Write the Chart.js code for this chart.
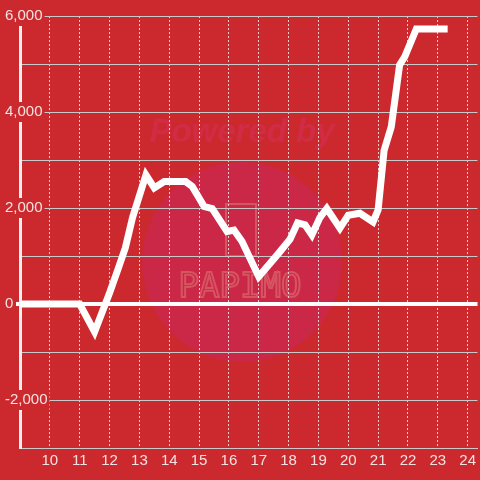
<!DOCTYPE html>
<html>
<head>
    <title>Balance by hour</title>
    <script src="https://cdn.jsdelivr.net/npm/chart.js"></script>
    <style>
        * { margin: 0; padding: 0; }
        body { background: #cc292e; }
        #wrap { width: 480px; height: 480px; position: relative; }
    </style>
</head>
<body>
    <div id="wrap"><canvas id="chart"></canvas></div>
    <script>
        // values
        const hours = [9, 11, 11.5, 12.0, 12.27, 12.53, 12.77, 13.22, 13.5, 13.83, 14.55, 14.77, 15.17, 15.44,
            15.94, 16.17, 16.44, 17.0, 17.67, 18.05, 18.3, 18.55, 18.78, 19.05, 19.28, 19.72, 20.0, 20.39,
            20.83, 21.0, 21.2, 21.44, 21.72, 21.89, 22.28, 23.33];
        const balance = [0, 0, -580, 230, 700, 1170, 1800, 2690, 2420, 2550, 2550, 2450, 2030, 1990,
            1510, 1540, 1300, 570, 1060, 1350, 1690, 1650, 1440, 1800, 1990, 1580, 1850, 1890,
            1710, 1960, 3200, 3690, 4980, 5150, 5730, 5730];
        const xTicks = [10, 11, 12, 13, 14, 15, 16, 17, 18, 19, 20, 21, 22, 23, 24];
        const yTicks = [-3000, -2000, -1000, 0, 1000, 2000, 3000, 4000, 5000, 6000];

        const bg = '#cc292e';
        const labelColor = '#f4e2e2';

        // background + faint watermark
        const watermark = {
            id: 'watermark',
            beforeDraw(chart) {
                const ctx = chart.ctx;
                ctx.save();
                ctx.fillStyle = bg;
                ctx.fillRect(0, 0, chart.width, chart.height);
                ctx.fillStyle = '#cb2747';
                ctx.beginPath();
                ctx.arc(242, 262, 100, 0, Math.PI * 2);
                ctx.fill();
                ctx.fillStyle = '#d02c45';
                ctx.font = 'italic bold 33px "Liberation Sans", Arial, sans-serif';
                ctx.textAlign = 'center';
                ctx.textBaseline = 'middle';
                ctx.fillText('Powered by', 242, 133);
                ctx.strokeStyle = '#d65562';
                ctx.lineWidth = 2;
                ctx.strokeRect(226, 204, 30, 52);
                ctx.font = '34px "DejaVu Sans Mono", monospace';
                ctx.strokeText('PAPIMO', 240, 288);
                ctx.restore();
            }
        };

        new Chart(document.getElementById('chart'), {
            type: 'line',
            data: {
                datasets: [{
                    data: hours.map((h, i) => ({ x: h, y: balance[i] })),
                    borderColor: '#ffffff',
                    borderWidth: 7,
                    pointRadius: 0,
                    tension: 0,
                    fill: false
                }]
            },
            options: {
                responsive: true,
                maintainAspectRatio: false,
                animation: false,
                layout: { padding: { left: 20, top: 16, right: 0, bottom: 0 } },
                plugins: { legend: { display: false }, tooltip: { enabled: false } },
                scales: {
                    x: {
                        type: 'linear',
                        min: 9,
                        max: 24.33,
                        afterBuildTicks: s => { s.ticks = xTicks.map(v => ({ value: v })); },
                        afterFit: s => { s.height = 32; },
                        grid: { color: '#e6d0d0', lineWidth: 1, drawTicks: false },
                        border: { display: true, color: '#c9c9c9', width: 1, dash: [2, 2] },
                        ticks: {
                            color: labelColor,
                            padding: 4,
                            maxRotation: 0,
                            font: { family: '"Liberation Sans", Arial, sans-serif', size: 15 }
                        }
                    },
                    y: {
                        min: -3000,
                        max: 6000,
                        afterBuildTicks: s => { s.ticks = yTicks.map(v => ({ value: v })); },
                        afterFit: s => { s.width = 0; },
                        grid: {
                            color: c => c.tick && c.tick.value === 0 ? '#ffffff' : '#c9c9c9',
                            lineWidth: c => c.tick && c.tick.value === 0 ? 4 : 1,
                            tickColor: c => c.tick && c.tick.value === 0 ? '#ffffff' : 'rgba(0,0,0,0)',
                            tickWidth: c => c.tick && c.tick.value === 0 ? 4 : 1,
                            tickLength: 4
                        },
                        border: { display: true, color: '#f4f0f0', width: 3 },
                        ticks: {
                            mirror: true,
                            padding: -15,
                            color: labelColor,
                            showLabelBackdrop: true,
                            backdropColor: bg,
                            backdropPadding: { top: 1, bottom: 1, left: 2, right: 2 },
                            font: { family: '"Liberation Sans", Arial, sans-serif', size: 15 },
                            callback: v => v % 2000 === 0 ? v.toLocaleString('en-US') : ''
                        }
                    }
                }
            },
            plugins: [watermark]
        });
    </script>
</body>
</html>
